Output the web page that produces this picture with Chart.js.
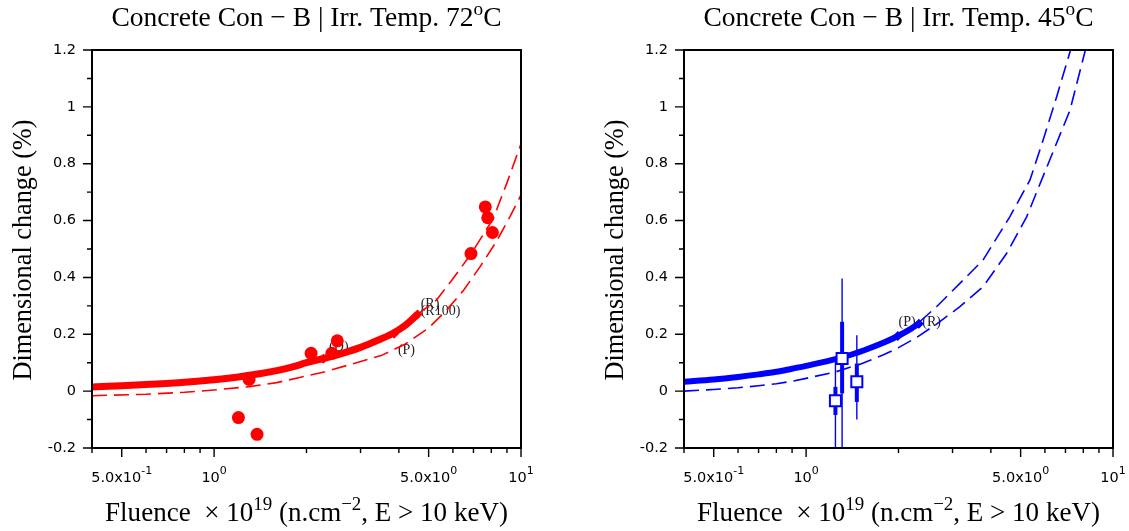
<!DOCTYPE html>
<html>
<head>
<meta charset="utf-8">
<script src="https://cdn.jsdelivr.net/npm/chart.js@4.4.0/dist/chart.umd.min.js"></script>
<style>
html,body{margin:0;padding:0;background:#fff;}
#wrap{position:relative;width:1129px;height:531px;overflow:hidden;background:#fff;}
#c1{position:absolute;left:0;top:0;width:560px;height:531px;}
#c2{position:absolute;left:560px;top:0;width:569px;height:531px;}
</style>
</head>
<body>
<div id="wrap">
<canvas id="c1" width="560" height="531"></canvas>
<canvas id="c2" width="569" height="531"></canvas>
</div>
<script>
// ---------------- DATA ----------------
const FLUENCE_MIN = 0.4, FLUENCE_MAX = 10;
const DIM_MIN = -0.2, DIM_MAX = 1.2, DIM_STEP = 0.2;

// Left chart: Irr. Temp. 72°C (red)
const L_FIT_F = [0.4, 0.5, 0.6, 0.7, 0.8, 0.9, 1.0, 1.2, 1.4, 1.6, 1.8, 2.0, 2.3, 2.6, 3.0, 3.4, 3.8, 4.2, 4.6];
const L_FIT_D = [0.015, 0.019, 0.023, 0.027, 0.031, 0.036, 0.040, 0.050, 0.061, 0.072, 0.085, 0.100, 0.116, 0.132, 0.154, 0.178, 0.202, 0.232, 0.270];
const L_R_F = [4.6, 5.3, 5.95, 6.87, 8.12, 8.98, 10];
const L_R_D = [0.270, 0.320, 0.390, 0.482, 0.607, 0.730, 0.870];
const L_P_F = [0.4, 0.6, 0.8, 1.0, 1.3, 1.6, 1.9, 2.3, 2.8, 3.5, 4.2, 5.0, 5.7, 6.5, 7.35, 8.3, 9.2, 10];
const L_P_D = [-0.016, -0.011, -0.004, 0.004, 0.016, 0.030, 0.048, 0.068, 0.095, 0.125, 0.166, 0.222, 0.283, 0.355, 0.437, 0.525, 0.613, 0.690];
const L_MARK_F = [2.27, 3.86, 4.6];
const L_MARK_D = [0.114, 0.202, 0.270];
const L_OBS_F = [1.20, 1.38, 1.30, 2.07, 2.42, 2.52, 6.87, 7.65, 7.79, 8.07];
const L_OBS_D = [-0.093, -0.152, 0.041, 0.133, 0.133, 0.177, 0.484, 0.648, 0.610, 0.558];
const L_NOTE_TEXT = ['(D)', '(P)', '(R)', '(R100)'];
const L_NOTE_F = [2.37, 3.97, 4.71, 4.71];
const L_NOTE_D = [0.153, 0.142, 0.306, 0.280];

// Right chart: Irr. Temp. 45°C (blue)
const R_FIT_F = [0.4, 0.5, 0.6, 0.7, 0.8, 0.9, 1.0, 1.2, 1.4, 1.6, 1.8, 2.0, 2.2, 2.35];
const R_FIT_D = [0.033, 0.041, 0.050, 0.059, 0.068, 0.079, 0.089, 0.108, 0.128, 0.150, 0.172, 0.195, 0.220, 0.240];
const R_R_F = [2.35, 2.66, 3.17, 3.77, 4.61, 5.36, 5.92, 6.55, 7.24, 10];
const R_R_D = [0.245, 0.297, 0.379, 0.461, 0.613, 0.742, 0.883, 1.035, 1.193, 1.800];
const R_P_F = [0.4, 0.5, 0.6, 0.7, 0.8, 0.9, 1.0, 1.25, 1.5, 1.78, 2.0, 2.3, 2.66, 3.17, 3.77, 4.5, 5.23, 7.24, 10];
const R_P_D = [0.000, 0.006, 0.012, 0.019, 0.026, 0.035, 0.045, 0.068, 0.095, 0.127, 0.153, 0.190, 0.236, 0.297, 0.367, 0.484, 0.613, 0.988, 1.580];
const R_MARK_F = [1.99, 2.33];
const R_MARK_D = [0.194, 0.237];
const R_OBS_F = [1.246, 1.31, 1.463];
const R_OBS_D = [-0.034, 0.115, 0.033];
const R_THIN_LO = [-0.30, -0.30, -0.100];
const R_THIN_HI = [0.110, 0.396, 0.197];
const R_THICK_LO = [-0.084, -0.008, -0.038];
const R_THICK_HI = [0.015, 0.244, 0.097];
const R_NOTE_TEXT = ['(P)', '(R)'];
const R_NOTE_F = [2.0, 2.39];
const R_NOTE_D = [0.241, 0.241];

// ticks
const Y_MINOR = [-0.1, 0.1, 0.3, 0.5, 0.7, 0.9, 1.1];
const X_MAJOR = [0.5, 1, 5, 10];
const X_MAJOR_BASE = ['5.0x10', '10', '5.0x10', '10'];
const X_MAJOR_EXP = ['-1', '0', '0', '1'];
const X_MINOR = [0.4, 0.6, 0.7, 0.8, 0.9, 2, 3, 4, 6, 7, 8, 9];

// ---------------- RENDERING ----------------
const SERIF = '"Liberation Serif", "DejaVu Serif", serif';
const SANS = '"DejaVu Sans", sans-serif';
const RED = '#ff0000', BLUE = '#0000ff';

const pts = (xs, ys) => xs.map((x, i) => ({x: x, y: ys[i]}));

function richWidth(ctx, segs, size, supSize, family) {
  let w = 0;
  for (const s of segs) {
    ctx.font = (s.sup ? supSize : size) + 'px ' + family;
    w += ctx.measureText(s.t).width;
  }
  return w;
}
function drawRich(ctx, segs, cx, y, size, supSize, raise, family) {
  const w = richWidth(ctx, segs, size, supSize, family);
  let x = cx - w / 2;
  ctx.textAlign = 'left';
  ctx.textBaseline = 'alphabetic';
  for (const s of segs) {
    ctx.font = (s.sup ? supSize : size) + 'px ' + family;
    ctx.fillText(s.t, x, s.sup ? y - raise : y);
    x += ctx.measureText(s.t).width;
  }
}
function drawLatex(ctx, segs, cx, y, targetW) {
  const base = 24;
  const w = richWidth(ctx, segs, base, base * 0.7, SERIF);
  const size = base * targetW / w;
  drawRich(ctx, segs, cx, y, size, size * 0.7, size * 0.4, SERIF);
}

function decorPlugin(o) {
  return {
    id: 'decor',
    beforeDatasetsDraw(chart) {
      const ctx = chart.ctx, xs = chart.scales.x, ys = chart.scales.y;
      ctx.save();
      ctx.font = '14px ' + SERIF;
      ctx.fillStyle = '#222';
      ctx.textAlign = 'left';
      ctx.textBaseline = 'middle';
      o.noteText.forEach((t, i) => {
        ctx.fillText(t, xs.getPixelForValue(o.noteF[i]), ys.getPixelForValue(o.noteD[i]));
      });
      ctx.restore();
    },
    afterDraw(chart) {
      const ctx = chart.ctx, a = chart.chartArea, xs = chart.scales.x, ys = chart.scales.y;
      ctx.save();
      ctx.strokeStyle = '#000';
      ctx.fillStyle = '#000';
      // frame
      ctx.lineWidth = 2;
      ctx.strokeRect(a.left, a.top, a.right - a.left, a.bottom - a.top);
      // y ticks
      ctx.lineWidth = 1.4;
      ctx.beginPath();
      ys.ticks.forEach(t => {
        const y = ys.getPixelForValue(t.value);
        ctx.moveTo(a.left - 9, y); ctx.lineTo(a.left, y);
      });
      Y_MINOR.forEach(v => {
        const y = ys.getPixelForValue(v);
        ctx.moveTo(a.left - 5, y); ctx.lineTo(a.left, y);
      });
      // x ticks
      X_MAJOR.forEach(v => {
        const x = xs.getPixelForValue(v);
        ctx.moveTo(x, a.bottom); ctx.lineTo(x, a.bottom + 9);
      });
      X_MINOR.forEach(v => {
        const x = xs.getPixelForValue(v);
        ctx.moveTo(x, a.bottom); ctx.lineTo(x, a.bottom + 5);
      });
      ctx.stroke();
      // x tick labels
      X_MAJOR.forEach((v, i) => {
        drawRich(ctx, [{t: X_MAJOR_BASE[i]}, {t: X_MAJOR_EXP[i], sup: true}],
          xs.getPixelForValue(v), 482, 14.5, 11, 8, SANS);
      });
      // titles
      const cx = (a.left + a.right) / 2;
      drawLatex(ctx, o.title, cx, 26, 390);
      drawLatex(ctx, [{t: 'Fluence  \u00d7 10'}, {t: '19', sup: true}, {t: ' (n.cm'}, {t: '\u22122', sup: true}, {t: ', E > 10 keV)'}], cx, 521, 403);
      ctx.save();
      ctx.translate(a.left - 61.5, (a.top + a.bottom) / 2 + 1);
      ctx.rotate(-Math.PI / 2);
      drawLatex(ctx, [{t: 'Dimensional change (%)'}], 0, 0, 261);
      ctx.restore();
      ctx.restore();
    }
  };
}

function lineDs(xs, ys, color, width, dash) {
  return {data: pts(xs, ys), showLine: true, borderColor: color, backgroundColor: color,
          borderWidth: width, borderDash: dash || [], pointRadius: 0, tension: 0, clip: 0};
}

function buildChart(id, width, plotLeft, plotRight, datasets, o) {
  return new Chart(document.getElementById(id), {
    type: 'scatter',
    data: {datasets: datasets},
    options: {
      responsive: false,
      animation: false,
      events: [],
      devicePixelRatio: 1,
      layout: {padding: {left: 0, right: width - plotRight, top: 50, bottom: 0}},
      plugins: {legend: {display: false}, tooltip: {enabled: false}, title: {display: false}},
      scales: {
        x: {
          type: 'logarithmic', min: FLUENCE_MIN, max: FLUENCE_MAX,
          ticks: {display: false},
          grid: {display: false},
          border: {display: false},
          afterFit: s => { s.height = 531 - 448; }
        },
        y: {
          type: 'linear', min: DIM_MIN, max: DIM_MAX,
          ticks: {
            stepSize: DIM_STEP, padding: 7, color: '#000',
            font: {family: SANS, size: 14.5},
            callback: v => { const r = Math.round(v * 10) / 10; return r === 0 ? '0' : String(r); }
          },
          grid: {display: true, drawOnChartArea: false, drawTicks: true, tickLength: 9, color: 'rgba(0,0,0,0)'},
          border: {display: false},
          afterFit: s => { s.width = plotLeft; }
        }
      }
    },
    plugins: [decorPlugin(o)]
  });
}

// Left chart
const leftDatasets = [
  {data: pts(L_OBS_F, L_OBS_D), pointRadius: 6.5, pointStyle: 'circle', backgroundColor: RED, borderWidth: 0, showLine: false, clip: 0},
  {data: pts(L_MARK_F, L_MARK_D), pointRadius: 5, pointStyle: 'rectRot', backgroundColor: RED, borderWidth: 0, showLine: false, clip: 0},
  Object.assign(lineDs(L_FIT_F, L_FIT_D, RED, 7), {cubicInterpolationMode: 'monotone'}),
  lineDs(L_R_F, L_R_D, RED, 1.6, [15, 7]),
  lineDs(L_P_F, L_P_D, RED, 1.6, [15, 7])
];
buildChart('c1', 560, 92, 521, leftDatasets, {
  title: [{t: 'Concrete Con \u2212 B | Irr. Temp. 72'}, {t: 'o', sup: true}, {t: 'C'}],
  noteText: L_NOTE_TEXT, noteF: L_NOTE_F, noteD: L_NOTE_D
});

// Right chart
const rightDatasets = [
  {data: pts(R_OBS_F, R_OBS_D), pointRadius: 7.8, pointStyle: 'rect', backgroundColor: '#ffffff', borderColor: BLUE, borderWidth: 2, showLine: false, clip: 0}
];
R_OBS_F.forEach((f, i) => rightDatasets.push(lineDs([f, f], [R_THICK_LO[i], R_THICK_HI[i]], BLUE, 4)));
R_OBS_F.forEach((f, i) => rightDatasets.push(lineDs([f, f], [R_THIN_LO[i], R_THIN_HI[i]], BLUE, 1.4)));
rightDatasets.push({data: pts(R_MARK_F, R_MARK_D), pointRadius: 5, pointStyle: 'rectRot', backgroundColor: BLUE, borderWidth: 0, showLine: false, clip: 0});
rightDatasets.push(Object.assign(lineDs(R_FIT_F, R_FIT_D, BLUE, 6), {cubicInterpolationMode: 'monotone'}));
rightDatasets.push(lineDs(R_R_F, R_R_D, BLUE, 1.6, [15, 7]));
rightDatasets.push(lineDs(R_P_F, R_P_D, BLUE, 1.6, [15, 7]));
buildChart('c2', 569, 124, 553, rightDatasets, {
  title: [{t: 'Concrete Con \u2212 B | Irr. Temp. 45'}, {t: 'o', sup: true}, {t: 'C'}],
  noteText: R_NOTE_TEXT, noteF: R_NOTE_F, noteD: R_NOTE_D
});
</script>
</body>
</html>
